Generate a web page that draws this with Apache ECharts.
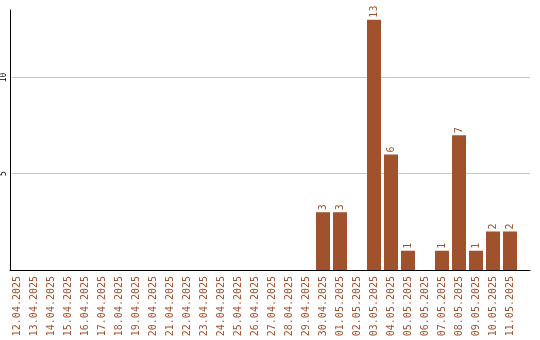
<!DOCTYPE html>
<html><head><meta charset="utf-8">
<script src="https://cdn.jsdelivr.net/npm/echarts@6/dist/echarts.min.js"></script>
<style>html,body{margin:0;padding:0;background:#fff}#c{width:540px;height:340px}</style>
</head><body><div id="c"></div>
<script>
const categories = ["12.04.2025","13.04.2025","14.04.2025","15.04.2025","16.04.2025","17.04.2025","18.04.2025","19.04.2025","20.04.2025","21.04.2025","22.04.2025","23.04.2025","24.04.2025","25.04.2025","26.04.2025","27.04.2025","28.04.2025","29.04.2025","30.04.2025","01.05.2025","02.05.2025","03.05.2025","04.05.2025","05.05.2025","06.05.2025","07.05.2025","08.05.2025","09.05.2025","10.05.2025","11.05.2025"];
const values = [0,0,0,0,0,0,0,0,0,0,0,0,0,0,0,0,0,0,3,3,0,13,6,1,0,1,7,1,2,2];
const yMax = 13.5;
const yStep = 5;

const chart = echarts.init(document.getElementById('c'));
const color = '#a0522d';
const font = 'DejaVu Sans Mono';
chart.setOption({
  animation: false,
  grid: [
    {left: 10, right: 10, top: 10, bottom: 70},
    {left: 8.5, width: 510, top: 10, bottom: 70}
  ],
  xAxis: [
    {gridIndex: 0, type: 'value', min: 0, max: 1, axisLine: {show: true, onZero: false, lineStyle: {color: '#000', width: 1}}, axisTick: {show: false}, axisLabel: {show: false}, splitLine: {show: false}},
    {gridIndex: 1, type: 'category', data: categories, boundaryGap: true, axisLine: {show: false}, axisTick: {show: false},
     axisLabel: {interval: 0, rotate: 90, margin: 6, color: color, fontFamily: font, fontSize: 10}}
  ],
  yAxis: [
    {gridIndex: 0, type: 'value', min: 0, max: yMax, interval: yStep,
     axisLine: {show: true, lineStyle: {color: '#000', width: 1}}, axisTick: {show: false},
     axisLabel: {showMinLabel: false, showMaxLabel: false, rotate: 90, margin: 2, color: '#000', fontFamily: font, fontSize: 8,
       formatter: v => (v % yStep === 0 ? String(v) : '')},
     splitLine: {show: true, showMinLine: false, showMaxLine: false, lineStyle: {color: '#c8c8c8', width: 1}}},
    {gridIndex: 1, type: 'value', min: 0, max: yMax, show: false}
  ],
  series: [{
    type: 'bar', xAxisIndex: 1, yAxisIndex: 1, data: values, barWidth: 14,
    itemStyle: {color: color},
    label: {show: true, position: 'top', rotate: 90, align: 'left', verticalAlign: 'middle', distance: 2,
      color: color, fontFamily: font, fontSize: 10, formatter: p => p.value ? String(p.value) : ''}
  }]
});
</script></body></html>
